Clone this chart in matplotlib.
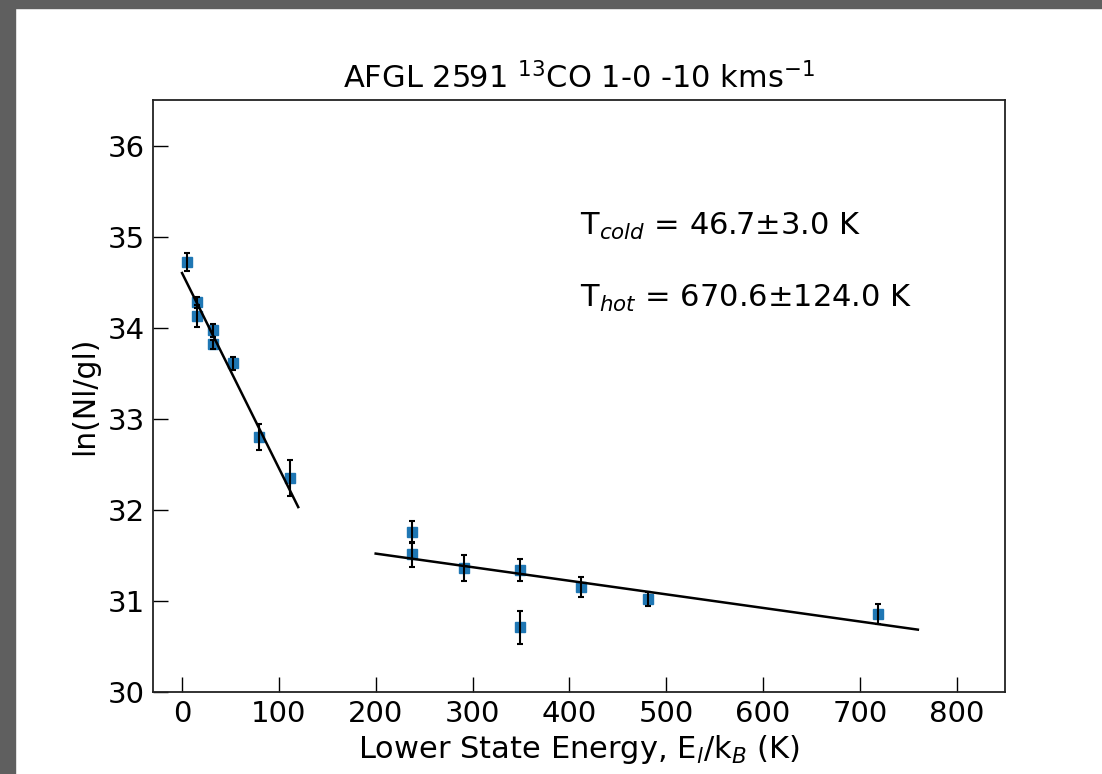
import numpy as np
import matplotlib
matplotlib.use("Agg")
import matplotlib.pyplot as plt
from matplotlib.patches import Rectangle

# Data: lower state energy (K), ln(N/g), error
energy = [5.3, 15.9, 15.9, 31.7, 31.7, 52.9, 79.3, 111.0,
          238.0, 238.0, 290.8, 349.0, 349.0, 412.4, 481.0, 719.0]
ln_ng = [34.72, 34.28, 34.13, 33.97, 33.82, 33.61, 32.80, 32.35,
         31.76, 31.51, 31.36, 31.34, 30.71, 31.15, 31.02, 30.86]
ln_err = [0.10, 0.06, 0.12, 0.07, 0.05, 0.07, 0.14, 0.20,
          0.12, 0.14, 0.14, 0.12, 0.18, 0.11, 0.08, 0.11]

# Fit parameters
t_cold, t_cold_err, b_cold = 46.7, 3.0, 34.60
t_hot, t_hot_err, b_hot = 670.6, 124.0, 31.818
cold_range = [0, 120]
hot_range = [200, 760]

xticks = [0, 100, 200, 300, 400, 500, 600, 700, 800]
yticks = [30, 31, 32, 33, 34, 35, 36]

fig = plt.figure(figsize=(11.02, 7.74), dpi=100)
# gray frame edge
fig.patches.append(Rectangle((0, 0), 15 / 1102, 1, transform=fig.transFigure,
                             color='#5f5f5f', zorder=0))
fig.patches.append(Rectangle((0, 1 - 8 / 774), 1, 8 / 774, transform=fig.transFigure,
                             color='#5f5f5f', zorder=0))

ax = fig.add_axes([153 / 1102, 1 - 692 / 774, (1005 - 153) / 1102, (692 - 100) / 774])

ax.plot(energy, ln_ng, 's', color='#1f77b4', markersize=7, zorder=2)
ax.errorbar(energy, ln_ng, yerr=ln_err, fmt='none', ecolor='black',
            elinewidth=1.5, capsize=2.5, capthick=1.5, zorder=3)

xc = np.array(cold_range, dtype=float)
xh = np.array(hot_range, dtype=float)
ax.plot(xc, b_cold - xc / t_cold, color='black', lw=1.8, zorder=4)
ax.plot(xh, b_hot - xh / t_hot, color='black', lw=1.8, zorder=4)

ax.text(411, 35.11, r"T$_{cold}$ = %.1f$\pm$%.1f K" % (t_cold, t_cold_err),
        fontsize=22, va='center', ha='left')
ax.text(411, 34.32, r"T$_{hot}$ = %.1f$\pm$%.1f K" % (t_hot, t_hot_err),
        fontsize=22, va='center', ha='left')

ax.set_xlim(-30, 850)
ax.set_ylim(30, 36.5)
ax.set_xticks(xticks)
ax.set_yticks(yticks)
ax.tick_params(direction='in', length=11, width=1, labelsize=21, pad=6)
for s in ax.spines.values():
    s.set_linewidth(1.3)
    s.set_color('#222222')

ax.set_xlabel(r"Lower State Energy, E$_{l}$/k$_{B}$ (K)", fontsize=22, labelpad=3)
ax.set_ylabel("ln(Nl/gl)", fontsize=21.5, labelpad=6)
ax.set_title(r"AFGL 2591 $^{13}$CO 1-0 -10 kms$^{-1}$", fontsize=22, pad=8)

fig.savefig("out.png", dpi=100)
